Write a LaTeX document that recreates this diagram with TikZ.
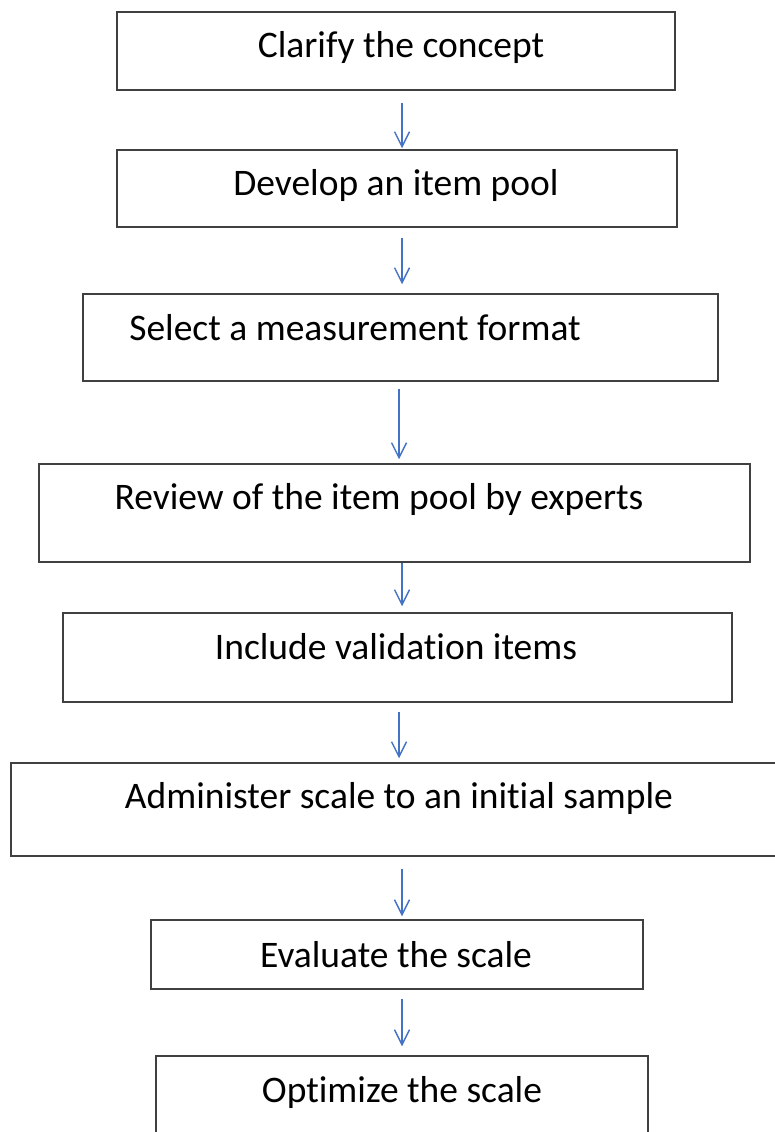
\documentclass[tikz,border=0pt]{standalone}
\usepackage{fontspec}
\setmainfont[Ligatures=NoCommon]{Carlito}
\usetikzlibrary{arrows.meta}
\definecolor{flowblue}{RGB}{68,114,196}
\definecolor{boxline}{RGB}{64,64,64}
\tikzset{
  stepbox/.style={draw=boxline, line width=1.5pt, rectangle, inner sep=0pt, fill=none},
  steptext/.style={anchor=base, inner sep=0pt, font=\fontsize{37.5}{44}\selectfont},
  flow/.style={draw=flowblue, line width=1.4pt,
    -{Straight Barb[length=15pt,width=15pt,line width=1.4pt]}},
}
\begin{document}
\begin{tikzpicture}[x=1pt, y=-1pt]
\useasboundingbox[fill=white] (0,0) rectangle (774,1132);

% step boxes
\node[stepbox, minimum width=558pt, minimum height=78pt] (b1) at (396,51) {};
\node[stepbox, minimum width=560pt, minimum height=77pt] (b2) at (397,188.5) {};
\node[stepbox, minimum width=635pt, minimum height=87pt] (b3) at (400.5,337.5) {};
\node[stepbox, minimum width=711pt, minimum height=98pt] (b4) at (394.5,513) {};
\node[stepbox, minimum width=669pt, minimum height=89pt] (b5) at (397.5,657.5) {};
\node[stepbox, minimum width=779pt, minimum height=93pt] (b6) at (400.5,809.5) {};
\node[stepbox, minimum width=492pt, minimum height=69pt] (b7) at (397,954.5) {};
\node[stepbox, minimum width=492pt, minimum height=89pt] (b8) at (402,1100.5) {};

% step labels
\node[steptext] (t1) at (401,58) {Clarify the concept};
\node[steptext] (t2) at (396,195) {Develop an item pool};
\node[steptext] (t3) at (355,340) {Select a measurement format};
\node[steptext] (t4) at (379,509) {Review of the item pool by experts};
\node[steptext] (t5) at (396,659) {Include validation items};
\node[steptext] (t6) at (399,808) {Administer scale to an initial sample};
\node[steptext] (t7) at (396,967) {Evaluate the scale};
\node[steptext] (t8) at (402,1102) {Optimize the scale};

% vertical lines the arrows run along
\coordinate (ax) at (402,0);
\coordinate (bx) at (399,0);

% arrows between steps
\draw[flow, shorten <=12pt, shorten >=1pt] (b1.south -| ax) -- (b2.north -| ax);
\draw[flow, shorten <=10pt, shorten >=9pt] (b2.south -| ax) -- (b3.north -| ax);
\draw[flow, shorten <=7pt, shorten >=4pt] (b3.south -| bx) -- (b4.north -| bx);
\draw[flow, shorten <=0pt, shorten >=6pt] (b4.south -| ax) -- (b5.north -| ax);
\draw[flow, shorten <=9pt, shorten >=4pt] (b5.south -| bx) -- (b6.north -| bx);
\draw[flow, shorten <=12pt, shorten >=3pt] (b6.south -| ax) -- (b7.north -| ax);
\draw[flow, shorten <=9pt, shorten >=9pt] (b7.south -| ax) -- (b8.north -| ax);
\end{tikzpicture}
\end{document}
